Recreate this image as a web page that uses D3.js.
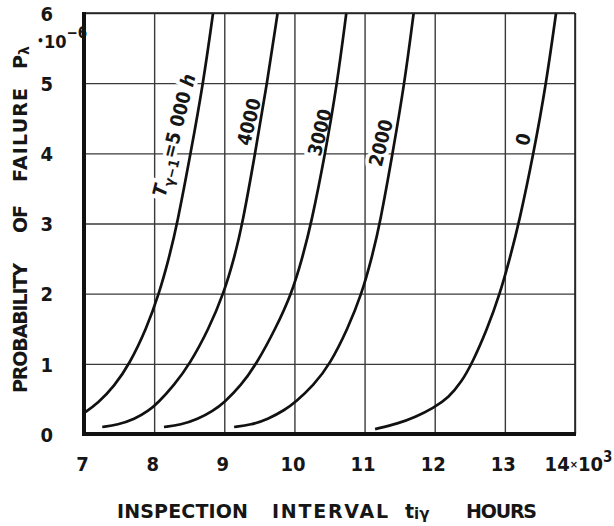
<!DOCTYPE html>
<html>
<head>
<meta charset="utf-8">
<script src="https://cdn.jsdelivr.net/npm/d3@7"></script>
<style>
  body { margin: 0; background: #fff; }
  svg text { font-family: "DejaVu Sans Condensed", "DejaVu Sans", sans-serif; font-weight: bold; fill: #161616; }
  svg .title text { font-family: "DejaVu Sans", sans-serif; }
</style>
</head>
<body>
<svg id="chart" width="614" height="526"></svg>
<script>
// Data
const X_TICKS = [7, 8, 9, 10, 11, 12, 13, 14];
const Y_TICKS = [0, 1, 2, 3, 4, 5, 6];
const T_PREV = [5000, 4000, 3000, 2000, 0];   // T(γ-1), hours

// [inspection interval (10^3 h), probability of failure (10^-6)]
const CURVE_5000 = [[7.0, 0.3], [7.2, 0.44], [7.43, 0.68], [7.65, 1], [7.89, 1.5], [8.07, 2], [8.21, 2.5], [8.33, 3], [8.52, 4], [8.7, 5], [8.84, 6]];
const CURVE_4000 = [[7.26, 0.1], [7.48, 0.13], [7.72, 0.21], [7.92, 0.33], [8.05, 0.44], [8.28, 0.69], [8.51, 1], [8.78, 1.5], [8.99, 2], [9.14, 2.5], [9.26, 3], [9.44, 4], [9.61, 5], [9.76, 6]];
const CURVE_3000 = [[8.14, 0.1], [8.38, 0.13], [8.62, 0.21], [8.84, 0.33], [9.0, 0.45], [9.23, 0.68], [9.46, 1], [9.73, 1.5], [9.96, 2], [10.11, 2.5], [10.24, 3], [10.44, 4], [10.61, 5], [10.74, 6]];
const CURVE_2000 = [[9.14, 0.1], [9.38, 0.13], [9.62, 0.21], [9.86, 0.34], [10.02, 0.46], [10.27, 0.69], [10.51, 1], [10.76, 1.5], [10.96, 2], [11.1, 2.5], [11.22, 3], [11.4, 4], [11.57, 5], [11.7, 6]];
const CURVE_0 = [[11.15, 0.07], [11.48, 0.15], [11.72, 0.24], [11.98, 0.37], [12.2, 0.52], [12.38, 0.74], [12.53, 1], [12.75, 1.5], [12.93, 2], [13.07, 2.5], [13.2, 3], [13.41, 4], [13.59, 5], [13.73, 6]];

// label anchor points in data units
const LABEL_X = [8.28, 9.35, 10.36, 11.23, 13.26];
const LABEL_Y = [4.26, 4.45, 4.30, 4.15, 4.20];

const curves = [CURVE_5000, CURVE_4000, CURVE_3000, CURVE_2000, CURVE_0];

const M = { top: 13, right: 39, bottom: 92, left: 84 };
const svg = d3.select('#chart');
const W = +svg.attr('width') - M.left - M.right;
const H = +svg.attr('height') - M.top - M.bottom;

const x = d3.scaleLinear().domain([7, 14]).range([0, W]);
const y = d3.scaleLinear().domain([0, 6]).range([H, 0]);

const g = svg.append('g').attr('transform', `translate(${M.left},${M.top})`);

// grid + tick labels
const xAxis = g.append('g')
  .attr('transform', `translate(0,${H})`)
  .call(d3.axisBottom(x).tickValues(X_TICKS).tickSize(-H).tickPadding(23).tickFormat(d => d));
const yAxis = g.append('g')
  .call(d3.axisLeft(y).tickValues(Y_TICKS).tickSize(-W).tickPadding(31).tickFormat(d => d));

[xAxis, yAxis].forEach(a => {
  a.select('.domain').remove();
  a.selectAll('.tick line').attr('stroke', '#3a3a3a').attr('stroke-width', 1.4);
  a.selectAll('.tick text').style('font-size', '20px').attr('fill', '#161616')
    .style('font-family', '"DejaVu Sans Condensed", "DejaVu Sans", sans-serif');
});
xAxis.selectAll('.tick text').attr('dx', -2);
yAxis.selectAll('.tick text').attr('dy', '0.36em');

// 14×10^3 on the last tick
const last = xAxis.selectAll('.tick text').filter(d => d === 14).text('14').attr('dx', 3);
last.append('tspan').style('font-size', '11px').attr('dy', -3).text('×');
last.append('tspan').attr('dy', 3).text('10');
last.append('tspan').style('font-size', '15px').attr('dy', -9).text('3');

// curve labels with white halo (they break the grid lines)
const labels = g.append('g');
T_PREV.forEach((t, i) => {
  const lx = x(LABEL_X[i]), ly = y(LABEL_Y[i]);
  const txt = labels.append('text')
    .attr('transform', `translate(${lx},${ly}) rotate(-76)`)
    .attr('text-anchor', 'middle')
    .attr('dy', '0.36em')
    .style('font-size', '19px')
    .attr('stroke', '#fff').attr('stroke-width', 7).attr('paint-order', 'stroke');
  if (i === 0) {
    txt.append('tspan').style('font-style', 'italic').text('T');
    txt.append('tspan').style('font-size', '14px').attr('dy', 5).text('γ−1');
    txt.append('tspan').attr('dy', -5).text('=5 000 ');
    txt.append('tspan').style('font-style', 'italic').text('h');
  } else {
    txt.text(String(t));
  }
});

// curves
const line = d3.line().x(d => x(d[0])).y(d => y(d[1])).curve(d3.curveBasis);
g.append('g').selectAll('path')
  .data(curves)
  .enter().append('path')
  .attr('d', line)
  .attr('fill', 'none')
  .attr('stroke', '#111')
  .attr('stroke-width', 2.7);

// frame: thick left and bottom, thin top and right
g.append('line').attr('x1', 0).attr('x2', W).attr('y1', 0).attr('y2', 0).attr('stroke', '#222').attr('stroke-width', 1.6);
g.append('line').attr('x1', W).attr('x2', W).attr('y1', 0).attr('y2', H).attr('stroke', '#222').attr('stroke-width', 1.6);
g.append('line').attr('x1', 0).attr('x2', 0).attr('y1', -1).attr('y2', H + 2).attr('stroke', '#111').attr('stroke-width', 4);
g.append('line').attr('x1', -2).attr('x2', W + 1).attr('y1', H).attr('y2', H).attr('stroke', '#111').attr('stroke-width', 4);

// x axis title
const xt = svg.append('g').attr('class', 'title').style('font-size', '19px');
const X_TITLE = [['INSPECTION', 117, 131], ['INTERVAL', 272, 116], ['HOURS', 466, 71]];
X_TITLE.forEach(([s, px, len]) => {
  xt.append('text').attr('x', px).attr('y', 518)
    .attr('textLength', len).attr('lengthAdjust', 'spacing').text(s);
});
const tiy = xt.append('text').attr('x', 405).attr('y', 518);
tiy.append('tspan').text('t');
tiy.append('tspan').style('font-size', '15px').attr('dy', 1).text('iγ');

// y axis title (rotated)
const yt = svg.append('g').attr('class', 'title').attr('transform', 'translate(27,0) rotate(-90)').style('font-size', '19px');
const Y_TITLE = [['PROBABILITY', -393, 130], ['OF', -233, 28], ['FAILURE', -182, 94]];
Y_TITLE.forEach(([s, px, len]) => {
  yt.append('text').attr('x', px).attr('y', 0)
    .attr('textLength', len).attr('lengthAdjust', 'spacing').text(s);
});
const pl = yt.append('text').attr('x', -69).attr('y', 0);
pl.append('tspan').text('P');
pl.append('tspan').style('font-size', '14px').attr('dy', 2).text('λ');

// ·10^-6 unit next to the top tick
const unit = svg.append('text').attr('x', 37).attr('y', 48).style('font-size', '18px');
unit.append('tspan').style('font-size', '12px').attr('dy', -3).text('•');
unit.append('tspan').attr('dy', 3).text('10');
unit.append('tspan').style('font-size', '15px').attr('dy', -10).text('−6');
</script>
</body>
</html>
